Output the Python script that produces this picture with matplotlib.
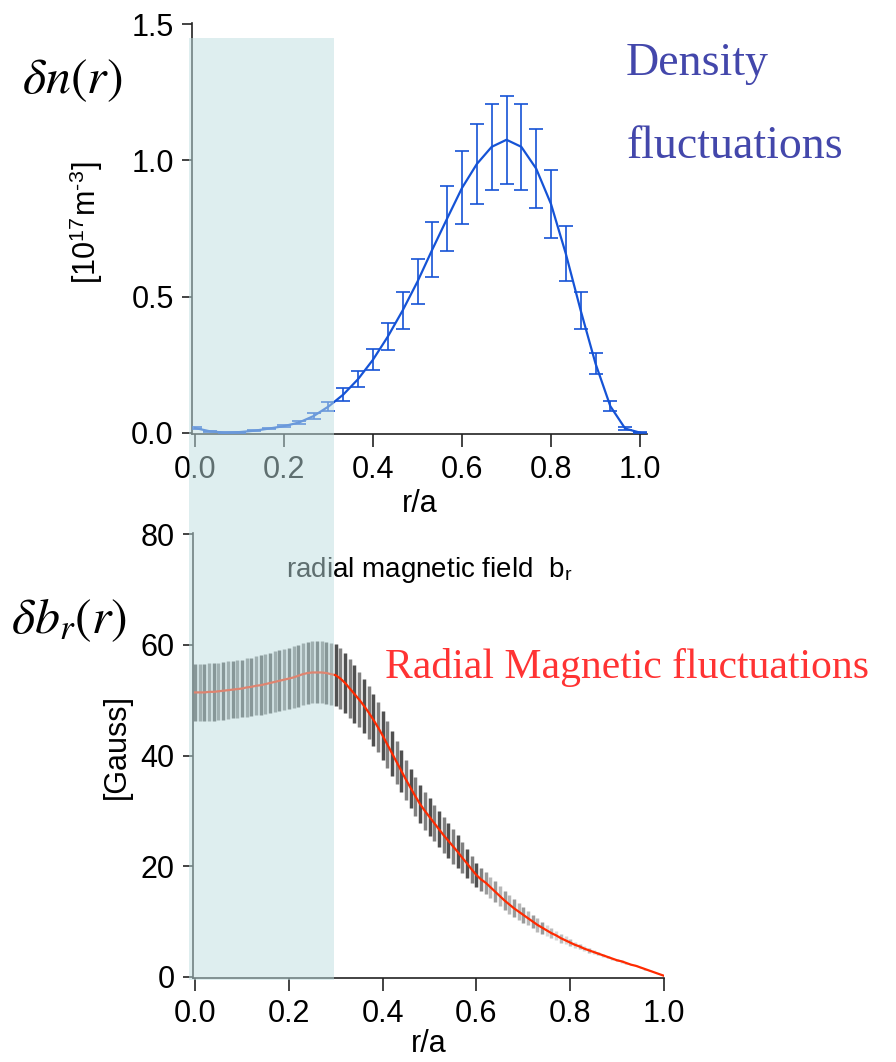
import numpy as np
import matplotlib
matplotlib.use("Agg")
import matplotlib.pyplot as plt
from matplotlib.patches import Rectangle

plt.rcParams['font.family'] = ['Liberation Sans', 'DejaVu Sans']
plt.rcParams['mathtext.fontset'] = 'stix'

# ---------------- data ----------------
# density fluctuations (top panel), r/a = k/30
r_density = np.linspace(0.0, 1.0, 31)
dn_values = [0.017, 0.005, 0.000, 0.002, 0.007, 0.015, 0.024, 0.037, 0.061, 0.096,
             0.140, 0.197, 0.268, 0.353, 0.449, 0.555, 0.673, 0.787, 0.899, 0.987,
             1.050, 1.076, 1.050, 0.970, 0.840, 0.657, 0.449, 0.254, 0.097, 0.015,
             0.000]
dn_errors = [0.002, 0.002, 0.002, 0.002, 0.002, 0.003, 0.004, 0.006, 0.010, 0.017,
             0.023, 0.028, 0.038, 0.050, 0.067, 0.084, 0.101, 0.118, 0.134, 0.146,
             0.157, 0.162, 0.157, 0.146, 0.124, 0.101, 0.067, 0.040, 0.018, 0.005,
             0.002]

# radial magnetic fluctuations (bottom panel), r/a = 0.00 ... 1.00 step 0.01
r_br = np.linspace(0.0, 1.0, 101)
br_values = [51.4, 51.4, 51.4, 51.5, 51.5, 51.6, 51.7, 51.8, 51.9, 52.0,
             52.1, 52.3, 52.4, 52.6, 52.7, 52.9, 53.1, 53.3, 53.5, 53.7,
             53.9, 54.1, 54.4, 54.7, 54.9, 55.0, 55.0, 55.0, 54.9, 54.7,
             54.5, 53.9, 53.1, 52.1, 51.1, 50.1, 49.0, 47.8, 46.5, 45.1,
             43.6, 42.0, 40.4, 38.8, 37.2, 35.6, 34.1, 32.6, 31.2, 30.0,
             28.9, 27.8, 26.7, 25.6, 24.6, 23.6, 22.6, 21.5, 20.5, 19.4,
             18.4, 17.6, 17.0, 16.2, 15.4, 14.6, 13.8, 13.1, 12.4, 11.8,
             11.2, 10.6, 10.0, 9.4, 8.9, 8.4, 7.9, 7.5, 7.0, 6.6,
             6.2, 5.8, 5.5, 5.1, 4.8, 4.5, 4.2, 3.9, 3.6, 3.3,
             3.0, 2.8, 2.5, 2.2, 2.0, 1.7, 1.4, 1.1, 0.8, 0.5,
             0.2]
br_errors = [5.2, 5.2, 5.2, 5.2, 5.2, 5.2, 5.2, 5.2, 5.2, 5.2,
             5.2, 5.3, 5.3, 5.3, 5.4, 5.4, 5.4, 5.5, 5.5, 5.5,
             5.5, 5.6, 5.6, 5.6, 5.6, 5.6, 5.6, 5.6, 5.6, 5.6,
             5.6, 5.5, 5.4, 5.3, 5.2, 5.0, 4.9, 4.8, 4.7, 4.5,
             4.4, 4.2, 4.1, 3.9, 3.8, 3.6, 3.5, 3.5, 3.4, 3.4,
             3.4, 3.3, 3.3, 3.3, 3.2, 3.2, 3.0, 2.8, 2.6, 2.4,
             2.2, 2.1, 2.0, 1.9, 1.9, 1.8, 1.8, 1.7, 1.6, 1.5,
             1.4, 1.3, 1.2, 1.2, 1.1, 1.0, 0.9, 0.8, 0.8, 0.7,
             0.6, 0.5, 0.5, 0.4, 0.4, 0.3, 0.3, 0.3, 0.2, 0.2,
             0.2, 0.2, 0.1, 0.1, 0.1, 0.1, 0.1, 0.1, 0.0, 0.0,
             0.0]

top_yticks = [0.0, 0.5, 1.0, 1.5]
bottom_yticks = [0, 20, 40, 60, 80]
xticks = [0.0, 0.2, 0.4, 0.6, 0.8, 1.0]

# ---------------- figure ----------------
W, H = 896, 1062
fig = plt.figure(figsize=(W / 100, H / 100), dpi=100)


def px_axes(x0, y0, x1, y1):
    return fig.add_axes([x0 / W, 1 - y1 / H, (x1 - x0) / W, (y1 - y0) / H])


TICK_FS = 22

# top panel
ax1 = px_axes(191.7, 23, 647, 434)
ax1.errorbar(r_density, dn_values, yerr=dn_errors, color='#1553d6', lw=1.6,
             elinewidth=1.2, capsize=5, capthick=1.2, zorder=3)
ax1.set_xlim(-0.0074, 1.0157)
ax1.set_ylim(-0.005, 1.505)
ax1.set_yticks(top_yticks)
ax1.set_yticklabels(['0.0', '0.5', '1.0', '1.5'])
ax1.set_xticks(xticks)
ax1.set_xticklabels(['%.1f' % v for v in xticks])
ax1.set_xlabel('r/a', fontsize=TICK_FS, labelpad=3)
ax1.set_ylabel('[10$^{\\mathregular{17}}$m$^{\\mathregular{‐3}}$]', fontsize=TICK_FS)
ax1.yaxis.set_label_coords(-0.19, 0.515)

# bottom panel
ax2 = px_axes(192.7, 533, 664, 978)
cols = []
for i, r in enumerate(r_br):
    if r < 0.62:
        cols.append('#505050' if i % 2 == 0 else '#808080')
    elif r < 0.75:
        cols.append('#9a9a9a' if i % 2 == 0 else '#b8b8b8')
    else:
        cols.append('#bcbcbc' if i % 2 == 0 else '#d6d6d6')
lo = np.array(br_values) - np.array(br_errors)
hi = np.array(br_values) + np.array(br_errors)
ax2.vlines(r_br, lo, hi, colors=cols, lw=2.5, zorder=2)
ax2.plot(r_br, br_values, color='#ff2a00', lw=1.6, zorder=3)
ax2.set_xlim(-0.005, 1.0)
ax2.set_ylim(-0.2, 80.2)
ax2.set_yticks(bottom_yticks)
ax2.set_xticks(xticks)
ax2.set_xticklabels(['%.1f' % v for v in xticks])
ax2.set_xlabel('r/a', fontsize=TICK_FS, labelpad=0)
ax2.set_ylabel('[Gauss]', fontsize=TICK_FS)
ax2.yaxis.set_label_coords(-0.13, 0.52)

for ax in (ax1, ax2):
    for s in ('top', 'right'):
        ax.spines[s].set_visible(False)
    for s in ('left', 'bottom'):
        ax.spines[s].set_color('#222222')
        ax.spines[s].set_linewidth(1.2)
    ax.tick_params(axis='both', labelsize=TICK_FS, width=1.2, color='#222222')
    ax.tick_params(axis='x', length=9, pad=6)
    ax.tick_params(axis='y', length=7, pad=6)


def ftext(x, y, s, **kw):
    fig.text(x / W, 1 - y / H, s, **kw)


ftext(72, 93, r'$\delta n(r)$', fontsize=36, ha='center', va='baseline')
ftext(69, 633, r'$\delta b_r(r)$', fontsize=36, ha='center', va='baseline')
ftext(626, 75, 'Density', fontsize=33, family='Liberation Serif',
      color='#4347ab', ha='left', va='baseline')
ftext(627, 158, 'fluctuations', fontsize=33, family='Liberation Serif',
      color='#4347ab', ha='left', va='baseline')
ftext(385, 678, 'Radial Magnetic fluctuations', fontsize=30,
      family='Liberation Serif', color='#ff3333', ha='left', va='baseline')
ftext(286, 577, r'radial magnetic field  b$_\mathregular{r}$', fontsize=20,
      ha='left', va='baseline')

# translucent highlight band over r/a < 0.3
band = Rectangle((189 / W, 1 - 980 / H), (334 - 189) / W, (980 - 38) / H,
                 transform=fig.transFigure, facecolor='#bfdfe1', alpha=0.5,
                 edgecolor='none', zorder=10)
fig.add_artist(band)

fig.savefig('out.png', dpi=100)
